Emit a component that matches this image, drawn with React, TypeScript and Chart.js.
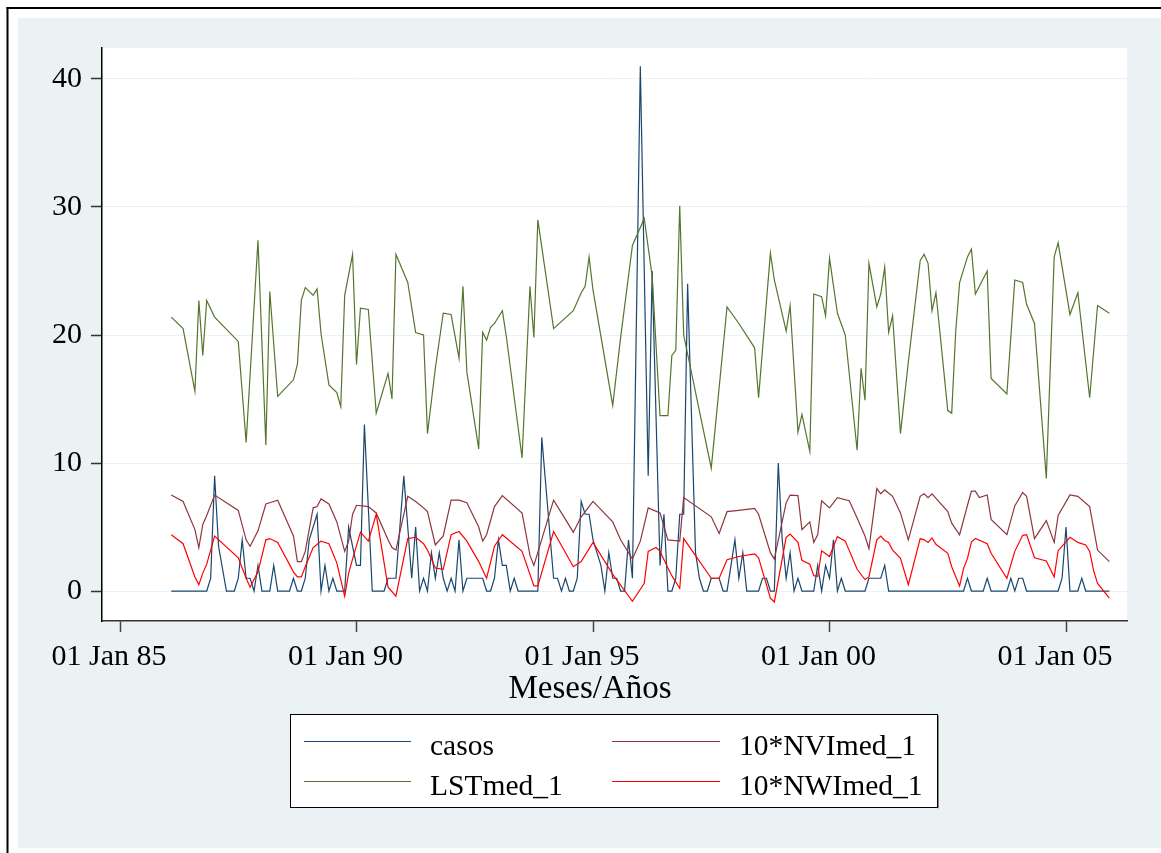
import { useEffect, useRef } from "react";
import { Chart, registerables } from "chart.js";

Chart.register(...registerables);

// x values are months counted from January 1985 (0 = 01 Jan 85)
const casosMonths = [13,22,23,24,25,27,29,30,31,32,33,34,35,36,38,39,40,43,44,45,46,47,48,49,50,51,52,53,54,55,57,58,60,61,62,64,67,68,70,72,74,75,76,77,78,79,80,81,82,83,84,85,86,87,88,92,93,94,95,96,97,98,99,100,101,106,107,110,111,112,113,114,115,116,117,118,119,120,121,122,123,124,125,126,127,128,129,130,132,134,135,137,138,139,140,141,142,143,144,146,147,148,149,150,152,153,154,156,157,158,159,162,163,164,165,166,167,168,169,170,171,172,173,176,177,178,179,180,181,182,183,184,189,190,193,194,195,214,215,216,219,220,221,225,226,227,228,229,230,238,239,240,241,243,244,245,251];
const casosValues = [0,0,1,9,3.5,0,0,1,4,1,1,0,2,0,0,2,0,0,1,0,0,1,4,5,6,0,2,0,1,0,0,5,2,2,13,0,0,1,1,9,1,5,0,1,0,3,1,3,1,0,1,0,4,0,1,1,0,0,1,4,2,2,0,1,0,0,12,1,1,0,1,0,0,1,7,6,6,4,3,2,0,3,1,1,0,0,4,1,41,9,25,2,6,0,0,1,6,6,24,3,1,0,0,1,1,0,0,4,1,3,0,0,1,1,0,0,10,4,1,3,0,1,0,0,2,0,2,1,4,0,1,0,0,1,1,2,0,0,1,0,0,1,0,0,1,0,1,1,0,0,1,5,0,0,1,0,0];

const lstMonths = [13,16,19,20,21,22,24,30,32,35,37,38,40,44,45,46,47,49,50,51,53,55,56,57,59,60,61,63,65,68,69,70,73,75,77,78,80,82,84,86,87,88,91,92,93,94,95,97,98,102,104,105,106,110,115,117,118,119,120,125,127,130,133,135,137,139,140,141,142,143,150,154,157,161,162,165,166,169,170,172,173,175,176,178,179,180,182,184,187,188,189,190,192,193,194,195,196,198,200,203,204,205,206,207,210,211,212,213,215,216,217,220,221,225,227,229,230,232,235,237,238,241,243,246,248,251];
const lstValues = [21.4,20.5,15.6,22.7,18.4,22.7,21.4,19.5,11.6,27.4,11.4,23.4,15.2,16.5,17.7,22.7,23.7,23.1,23.6,20.1,16.1,15.5,14.4,23.1,26.3,17.7,22.1,22.0,13.9,17.0,15.0,26.3,24.1,20.2,20.0,12.3,17.4,21.7,21.6,18.2,23.8,17.1,11.1,20.2,19.6,20.6,20.9,21.9,19.9,10.4,23.8,19.8,29.0,20.5,21.9,23.3,23.8,26.1,23.5,14.5,19.8,27.0,29.1,24.6,13.7,13.7,18.4,18.8,30.1,20.0,9.6,22.2,20.9,19.0,15.1,26.4,24.3,20.3,22.3,12.4,13.8,10.9,23.2,23.0,21.5,26.0,21.7,20.0,11.0,17.4,14.9,25.6,22.2,23.2,25.3,20.2,21.5,12.3,17.9,25.8,26.3,25.6,21.9,23.3,14.1,13.9,20.2,24.1,26.1,26.7,23.2,25.0,16.6,15.4,24.3,24.1,22.4,20.9,8.8,26.1,27.2,21.6,23.3,15.1,22.3,21.7];

const nviMonths = [13,16,19,20,21,22,24,30,32,33,35,37,38,40,44,45,46,47,49,50,51,53,55,57,58,59,60,63,65,68,69,70,73,75,77,78,80,82,84,86,88,91,92,93,95,97,102,104,105,110,115,117,120,125,127,130,132,134,137,139,142,143,150,152,154,157,161,162,165,166,169,170,172,173,175,176,177,178,180,182,185,187,189,190,192,193,194,196,198,200,203,204,205,206,210,211,213,215,216,217,218,220,221,225,227,229,230,232,235,237,238,241,243,246,248,251];
const nviValues = [7.5,7.0,4.8,3.4,5.2,5.9,7.5,6.3,4.0,3.5,4.7,6.8,6.9,7.1,4.3,2.3,2.3,3.1,6.5,6.6,7.2,6.8,5.4,3.1,3.9,6.0,6.7,6.6,6.1,4.0,3.4,3.2,7.4,7.0,6.5,6.2,3.6,4.3,7.1,7.1,6.9,5.0,3.9,4.4,6.6,7.45,6.1,2.8,2.0,7.1,4.6,5.8,7.0,5.4,4.0,2.5,3.9,6.5,6.1,4.0,3.9,7.3,5.8,4.5,6.2,6.3,6.45,6.0,3.0,2.5,6.9,7.5,7.45,4.8,5.4,3.8,4.4,7.05,6.5,7.3,7.05,5.7,4.3,3.3,8.0,7.6,7.9,7.4,6.1,4.0,7.4,7.6,7.3,7.6,6.2,5.3,4.4,6.7,7.8,7.8,7.3,7.5,5.6,4.4,6.65,7.7,7.4,4.1,5.5,3.8,5.9,7.5,7.4,6.6,3.2,2.3];

const nwiMonths = [13,16,19,20,21,22,24,30,32,33,35,37,38,40,44,45,46,47,49,51,53,55,57,58,59,61,63,65,68,70,73,75,77,78,80,82,84,86,88,91,93,95,97,102,105,106,110,115,117,120,125,130,133,134,136,137,139,140,142,143,150,152,154,157,161,162,165,166,169,170,172,173,175,176,177,178,180,182,184,187,189,190,192,193,194,195,196,198,200,203,204,205,206,207,210,211,213,214,215,216,217,220,221,225,227,229,230,232,235,237,238,241,243,245,246,247,248,251];
const nwiValues = [4.4,3.7,1.1,0.5,1.4,2.1,4.3,2.6,1.0,0.3,1.5,4.0,4.1,3.8,1.5,1.1,1.1,1.9,3.4,3.9,3.7,2.2,-0.4,1.4,2.5,4.6,3.9,6.0,0.3,-0.4,4.1,4.2,3.7,3.2,1.8,1.7,4.4,4.65,3.9,2.3,1.0,3.5,4.4,3.1,0.4,0.4,4.65,1.9,2.3,3.8,1.3,-0.8,0.6,3.1,3.4,3.1,1.8,1.2,0.2,4.1,1.0,1.0,2.45,2.7,2.9,2.6,-0.55,-0.85,4.2,4.45,3.8,2.4,2.1,1.2,1.15,3.15,2.7,4.25,3.9,1.7,0.9,1.1,4.0,4.3,3.95,3.8,3.2,2.55,0.5,4.1,4.0,3.8,4.15,3.65,2.95,1.9,0.4,1.75,2.55,3.85,4.1,3.7,2.95,1.0,3.1,4.35,4.4,2.6,2.35,1.1,3.15,4.2,3.8,3.6,3.1,1.6,0.6,-0.55];

const xTickValues = [0, 60, 120, 180, 240];
const xTickLabels = ["01 Jan 85", "01 Jan 90", "01 Jan 95", "01 Jan 00", "01 Jan 05"];
const yTickValues = [0, 10, 20, 30, 40];
const xAxisTitle = "Meses/Años";
const seriesNames = ["casos", "LSTmed_1", "10*NVImed_1", "10*NWImed_1"];
const seriesColors = ["#1a476f", "#55752f", "#90353b", "#ff0000"];

const W = 1161;
const H = 853;
const SERIF = '"Liberation Serif", "DejaVu Serif", serif';

const toPoints = (months: number[], values: number[]) =>
  months.map((m, i) => ({ x: m, y: values[i] }));

const backgroundPlugin = {
  id: "stataBackground",
  beforeDraw(chart: any) {
    const { ctx, chartArea } = chart;
    ctx.save();
    ctx.fillStyle = "#ffffff";
    ctx.fillRect(0, 0, W, H);
    ctx.fillStyle = "#eaf2f3";
    ctx.fillRect(18, 18, W - 18, 848 - 18);
    ctx.fillStyle = "#000000";
    ctx.fillRect(6.5, 7, 2, H - 7);
    ctx.fillRect(6.5, 7, W - 6.5, 2);
    ctx.fillStyle = "#ffffff";
    ctx.fillRect(chartArea.left, chartArea.top, chartArea.right - chartArea.left, chartArea.bottom - chartArea.top);
    ctx.restore();
  },
};

const legendPlugin = {
  id: "stataLegend",
  afterDraw(chart: any) {
    const ctx = chart.ctx as CanvasRenderingContext2D;
    ctx.save();
    // axis title
    ctx.fillStyle = "#000";
    ctx.font = `33px ${SERIF}`;
    ctx.textAlign = "center";
    ctx.textBaseline = "alphabetic";
    ctx.fillText(xAxisTitle, 590, 698);

    // legend box
    const bx = 290.5, by = 714.5, bw = 647, bh = 93;
    ctx.fillStyle = "#fff";
    ctx.fillRect(bx, by, bw, bh);
    ctx.strokeStyle = "#000";
    ctx.lineWidth = 1;
    ctx.strokeRect(bx, by, bw, bh);
    ctx.strokeStyle = "#888";
    ctx.beginPath();
    ctx.moveTo(bx + bw + 1, by + 1);
    ctx.lineTo(bx + bw + 1, by + bh + 1);
    ctx.stroke();

    const cols = [
      { lx0: 304, lx1: 411, tx: 430 },
      { lx0: 612, lx1: 720, tx: 739 },
    ];
    const rows = [
      { ly: 741.5, ty: 755 },
      { ly: 781.5, ty: 794.5 },
    ];
    // order: casos, 10*NVI (row 1); LST, 10*NWI (row 2)
    const layout = [
      { s: 0, c: 0, r: 0 },
      { s: 2, c: 1, r: 0 },
      { s: 1, c: 0, r: 1 },
      { s: 3, c: 1, r: 1 },
    ];
    ctx.textAlign = "left";
    ctx.font = `29.5px ${SERIF}`;
    layout.forEach(({ s, c, r }) => {
      const col = cols[c];
      const row = rows[r];
      ctx.strokeStyle = seriesColors[s];
      ctx.lineWidth = 1.2;
      ctx.beginPath();
      ctx.moveTo(col.lx0, row.ly);
      ctx.lineTo(col.lx1, row.ly);
      ctx.stroke();
      ctx.fillStyle = "#000";
      ctx.fillText(seriesNames[s], col.tx, row.ty);
    });
    ctx.restore();
  },
};

export default function App() {
  const canvasRef = useRef<HTMLCanvasElement | null>(null);

  useEffect(() => {
    document.body.style.margin = "0";
    const canvas = canvasRef.current;
    if (!canvas) return;

    const seriesData = [
      toPoints(casosMonths, casosValues),
      toPoints(lstMonths, lstValues),
      toPoints(nviMonths, nviValues),
      toPoints(nwiMonths, nwiValues),
    ];

    const chart = new Chart(canvas, {
      type: "line",
      data: {
        datasets: seriesData.map((d, i) => ({
          label: seriesNames[i],
          data: d,
          borderColor: seriesColors[i],
          backgroundColor: seriesColors[i],
          borderWidth: 1.2,
          pointRadius: 0,
          tension: 0,
          fill: false,
          order: 4 - i,
        })),
      },
      options: {
        responsive: false,
        animation: false,
        maintainAspectRatio: false,
        layout: { padding: { top: 48, right: 34, left: 0, bottom: 0 } },
        plugins: {
          legend: { display: false },
          title: { display: false },
          tooltip: { enabled: false },
        },
        scales: {
          x: {
            type: "linear",
            position: "bottom",
            min: -4.57,
            max: 255.47,
            afterBuildTicks: (scale: any) => {
              scale.ticks = xTickValues.map((v) => ({ value: v }));
            },
            afterFit: (scale: any) => {
              scale.height = H - 621;
            },
            ticks: {
              autoSkip: false,
              maxRotation: 0,
              padding: 7,
              labelOffset: -11,
              color: "#000",
              font: { family: SERIF, size: 30 },
              callback: (v: any) => {
                const idx = xTickValues.indexOf(Number(v));
                return idx >= 0 ? xTickLabels[idx] : "";
              },
            },
            grid: {
              drawOnChartArea: false,
              drawTicks: true,
              tickLength: 11,
              tickColor: "#444",
              tickWidth: 1.5,
            },
            border: { display: true, color: "#333", width: 1.5 },
          },
          y: {
            type: "linear",
            min: -2.34,
            max: 42.42,
            afterBuildTicks: (scale: any) => {
              scale.ticks = yTickValues.map((v) => ({ value: v }));
            },
            afterFit: (scale: any) => {
              scale.width = 102;
            },
            ticks: {
              padding: 9,
              color: "#000",
              font: { family: SERIF, size: 30 },
            },
            grid: {
              color: "#eaf2f3",
              lineWidth: 1,
              tickLength: 11,
              tickColor: "#333",
              tickWidth: 1.5,
            },
            border: { display: true, color: "#000", width: 1.5 },
          },
        },
      },
      plugins: [backgroundPlugin, legendPlugin],
    } as any);

    return () => chart.destroy();
  }, []);

  return (
    <div style={{ width: W, height: H, position: "relative" }}>
      <canvas ref={canvasRef} width={W} height={H} style={{ display: "block" }} />
    </div>
  );
}
